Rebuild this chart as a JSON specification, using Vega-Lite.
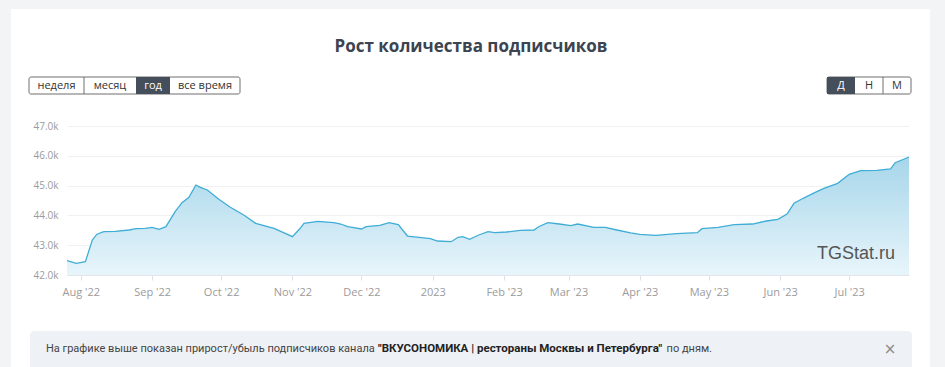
{
  "$schema": "https://vega.github.io/schema/vega-lite/v6.json",
  "width": 842,
  "height": 149,
  "autosize": {"type": "none"},
  "padding": {"left": 67, "top": 126, "right": 36, "bottom": 92},
  "background": "white",
  "config": {"view": {"stroke": null}, "font": "Open Sans"},
  "datasets": {
    "subs": [
      {"date": "2022-07-26", "subscribers": 42480},
      {"date": "2022-07-30", "subscribers": 42393},
      {"date": "2022-08-03", "subscribers": 42446},
      {"date": "2022-08-06", "subscribers": 43174},
      {"date": "2022-08-08", "subscribers": 43370},
      {"date": "2022-08-11", "subscribers": 43453},
      {"date": "2022-08-16", "subscribers": 43466},
      {"date": "2022-08-22", "subscribers": 43510},
      {"date": "2022-08-25", "subscribers": 43554},
      {"date": "2022-08-29", "subscribers": 43567},
      {"date": "2022-09-01", "subscribers": 43600},
      {"date": "2022-09-04", "subscribers": 43533},
      {"date": "2022-09-07", "subscribers": 43621},
      {"date": "2022-09-11", "subscribers": 44124},
      {"date": "2022-09-14", "subscribers": 44426},
      {"date": "2022-09-17", "subscribers": 44607},
      {"date": "2022-09-20", "subscribers": 45020},
      {"date": "2022-09-22", "subscribers": 44940},
      {"date": "2022-09-25", "subscribers": 44852},
      {"date": "2022-09-30", "subscribers": 44540},
      {"date": "2022-10-05", "subscribers": 44272},
      {"date": "2022-10-11", "subscribers": 44003},
      {"date": "2022-10-16", "subscribers": 43735},
      {"date": "2022-10-24", "subscribers": 43567},
      {"date": "2022-11-01", "subscribers": 43285},
      {"date": "2022-11-04", "subscribers": 43533},
      {"date": "2022-11-06", "subscribers": 43735},
      {"date": "2022-11-12", "subscribers": 43802},
      {"date": "2022-11-19", "subscribers": 43755},
      {"date": "2022-11-22", "subscribers": 43711},
      {"date": "2022-11-25", "subscribers": 43621},
      {"date": "2022-11-27", "subscribers": 43600},
      {"date": "2022-12-01", "subscribers": 43544},
      {"date": "2022-12-03", "subscribers": 43621},
      {"date": "2022-12-09", "subscribers": 43667},
      {"date": "2022-12-13", "subscribers": 43755},
      {"date": "2022-12-17", "subscribers": 43688},
      {"date": "2022-12-21", "subscribers": 43308},
      {"date": "2022-12-26", "subscribers": 43265},
      {"date": "2022-12-31", "subscribers": 43218},
      {"date": "2023-01-03", "subscribers": 43141},
      {"date": "2023-01-09", "subscribers": 43117},
      {"date": "2023-01-12", "subscribers": 43265},
      {"date": "2023-01-14", "subscribers": 43285},
      {"date": "2023-01-17", "subscribers": 43198},
      {"date": "2023-01-21", "subscribers": 43342},
      {"date": "2023-01-25", "subscribers": 43453},
      {"date": "2023-01-28", "subscribers": 43419},
      {"date": "2023-02-02", "subscribers": 43443},
      {"date": "2023-02-08", "subscribers": 43500},
      {"date": "2023-02-14", "subscribers": 43510},
      {"date": "2023-02-16", "subscribers": 43621},
      {"date": "2023-02-20", "subscribers": 43755},
      {"date": "2023-02-25", "subscribers": 43711},
      {"date": "2023-03-02", "subscribers": 43655},
      {"date": "2023-03-05", "subscribers": 43711},
      {"date": "2023-03-12", "subscribers": 43600},
      {"date": "2023-03-17", "subscribers": 43600},
      {"date": "2023-03-22", "subscribers": 43510},
      {"date": "2023-03-28", "subscribers": 43410},
      {"date": "2023-04-01", "subscribers": 43365},
      {"date": "2023-04-08", "subscribers": 43332},
      {"date": "2023-04-17", "subscribers": 43386},
      {"date": "2023-04-26", "subscribers": 43419},
      {"date": "2023-04-28", "subscribers": 43554},
      {"date": "2023-05-05", "subscribers": 43600},
      {"date": "2023-05-12", "subscribers": 43688},
      {"date": "2023-05-20", "subscribers": 43711},
      {"date": "2023-05-26", "subscribers": 43812},
      {"date": "2023-05-31", "subscribers": 43869},
      {"date": "2023-06-04", "subscribers": 44047},
      {"date": "2023-06-07", "subscribers": 44406},
      {"date": "2023-06-11", "subscribers": 44574},
      {"date": "2023-06-16", "subscribers": 44762},
      {"date": "2023-06-20", "subscribers": 44909},
      {"date": "2023-06-26", "subscribers": 45077},
      {"date": "2023-07-01", "subscribers": 45379},
      {"date": "2023-07-06", "subscribers": 45500},
      {"date": "2023-07-13", "subscribers": 45513},
      {"date": "2023-07-19", "subscribers": 45557},
      {"date": "2023-07-21", "subscribers": 45768},
      {"date": "2023-07-27", "subscribers": 45960}
    ]
  },
  "layer": [
    {"data": {"values": [{}]}, "mark": {"type": "rect", "fill": "#f3f4f6"}, "encoding": {"x": {"value": -67}, "x2": {"value": -56}, "y": {"value": -126}, "y2": {"value": 241}}},
    {"data": {"values": [{}]}, "mark": {"type": "rect", "fill": "#f3f4f6"}, "encoding": {"x": {"value": -67}, "x2": {"value": 878}, "y": {"value": -126}, "y2": {"value": -117}}},
    {"data": {"values": [{}]}, "mark": {"type": "rect", "fill": "#f3f4f6"}, "encoding": {"x": {"value": 863}, "x2": {"value": 878}, "y": {"value": -126}, "y2": {"value": 241}}},
    {
      "data": {"name": "subs"},
      "encoding": {
        "x": {
          "field": "date", "type": "temporal",
          "scale": {"type": "utc", "domain": [1658793600000, 1690416000000]},
          "axis": {
            "title": null, "grid": false,
            "values": [1659312000000, 1661990400000, 1664582400000, 1667260800000, 1669852800000, 1672531200000, 1675209600000, 1677628800000, 1680307200000, 1682899200000, 1685577600000, 1688169600000],
            "labelExpr": "utcmonth(datum.value)==0 ? utcFormat(datum.value,'%Y') : utcFormat(datum.value,\"%b '%y\")",
            "domainColor": "#e1e6ec", "tickColor": "#dde2e8", "tickSize": 5,
            "labelColor": "#9b9b9b", "labelFontSize": 11, "labelPadding": 6, "labelFont": "Open Sans"
          }
        },
        "y": {
          "field": "subscribers", "type": "quantitative",
          "scale": {"domain": [42000, 47000], "nice": false, "zero": false},
          "axis": {
            "title": null, "domain": false, "ticks": false,
            "values": [42000, 43000, 44000, 45000, 46000, 47000],
            "labelExpr": "format(datum.value/1000,'.1f')+'k'",
            "gridColor": "#f1f1f1", "labelColor": "#9b9b9b", "labelFontSize": 10, "labelPadding": 9, "labelFont": "Open Sans"
          }
        }
      },
      "layer": [
        {
          "mark": {
            "type": "area",
            "color": {"gradient": "linear", "x1": 0, "y1": 0, "x2": 0, "y2": 1,
              "stops": [{"offset": 0, "color": "#a6d6ea"}, {"offset": 1, "color": "#e8f5fb"}]}
          },
          "encoding": {"y2": {"datum": 42000}}
        },
        {"mark": {"type": "line", "stroke": "#3fadd6", "strokeWidth": 1.3}}
      ]
    },
    {"data": {"values": [{}]}, "mark": {"type": "text", "text": "TGStat.ru", "font": "Liberation Sans", "fontSize": 18, "color": "#555555", "align": "right", "baseline": "alphabetic"}, "encoding": {"x": {"value": 828}, "y": {"value": 133}}},
    {"data": {"values": [{}]}, "mark": {"type": "text", "text": "Рост количества подписчиков", "font": "Open Sans", "fontSize": 17, "fontWeight": "bold", "color": "#3b4450", "align": "center", "baseline": "middle"}, "encoding": {"x": {"value": 404}, "y": {"value": -79}}},
    {"data": {"values": [{}]}, "mark": {"type": "rect", "fill": "white", "stroke": "#6e6e6e", "strokeWidth": 1, "cornerRadius": 2}, "encoding": {"x": {"value": -38}, "x2": {"value": 173}, "y": {"value": -49}, "y2": {"value": -32}}},
    {"data": {"values": [{}]}, "mark": {"type": "rect", "fill": "#454f5b"}, "encoding": {"x": {"value": 69}, "x2": {"value": 103}, "y": {"value": -49}, "y2": {"value": -32}}},
    {"data": {"values": [{}]}, "mark": {"type": "rule", "stroke": "#6e6e6e", "strokeWidth": 1}, "encoding": {"x": {"value": 17}, "y": {"value": -49}, "y2": {"value": -32}}},
    {"data": {"values": [{}]}, "mark": {"type": "text", "text": "неделя", "fontSize": 11, "color": "#333333", "align": "center", "baseline": "middle"}, "encoding": {"x": {"value": -10.5}, "y": {"value": -40.5}}},
    {"data": {"values": [{}]}, "mark": {"type": "text", "text": "месяц", "fontSize": 11, "color": "#333333", "align": "center", "baseline": "middle"}, "encoding": {"x": {"value": 43}, "y": {"value": -40.5}}},
    {"data": {"values": [{}]}, "mark": {"type": "text", "text": "год", "fontSize": 11, "color": "white", "align": "center", "baseline": "middle"}, "encoding": {"x": {"value": 86}, "y": {"value": -40.5}}},
    {"data": {"values": [{}]}, "mark": {"type": "text", "text": "все время", "fontSize": 11, "color": "#333333", "align": "center", "baseline": "middle"}, "encoding": {"x": {"value": 138}, "y": {"value": -40.5}}},
    {"data": {"values": [{}]}, "mark": {"type": "rect", "fill": "white", "stroke": "#6e6e6e", "strokeWidth": 1, "cornerRadius": 2}, "encoding": {"x": {"value": 760}, "x2": {"value": 844}, "y": {"value": -49}, "y2": {"value": -32}}},
    {"data": {"values": [{}]}, "mark": {"type": "rect", "fill": "#454f5b"}, "encoding": {"x": {"value": 760}, "x2": {"value": 788}, "y": {"value": -49}, "y2": {"value": -32}}},
    {"data": {"values": [{}]}, "mark": {"type": "rule", "stroke": "#6e6e6e", "strokeWidth": 1}, "encoding": {"x": {"value": 816}, "y": {"value": -49}, "y2": {"value": -32}}},
    {"data": {"values": [{}]}, "mark": {"type": "text", "text": "Д", "fontSize": 11, "color": "white", "align": "center", "baseline": "middle"}, "encoding": {"x": {"value": 774}, "y": {"value": -40.5}}},
    {"data": {"values": [{}]}, "mark": {"type": "text", "text": "Н", "fontSize": 11, "color": "#333333", "align": "center", "baseline": "middle"}, "encoding": {"x": {"value": 802}, "y": {"value": -40.5}}},
    {"data": {"values": [{}]}, "mark": {"type": "text", "text": "М", "fontSize": 11, "color": "#333333", "align": "center", "baseline": "middle"}, "encoding": {"x": {"value": 830}, "y": {"value": -40.5}}},
    {"data": {"values": [{}]}, "mark": {"type": "rect", "fill": "#eef1f5", "cornerRadius": 4}, "encoding": {"x": {"value": -37}, "x2": {"value": 845}, "y": {"value": 205}, "y2": {"value": 260}}},
    {"data": {"values": [{}]}, "mark": {"type": "text", "text": "На графике выше показан прирост/убыль подписчиков канала", "font": "Roboto", "fontSize": 11, "color": "#444444", "align": "left", "baseline": "middle"}, "encoding": {"x": {"value": -21}, "y": {"value": 223}}},
    {"data": {"values": [{}]}, "mark": {"type": "text", "text": "\"ВКУСОНОМИКА | рестораны Москвы и Петербурга\"", "font": "Roboto", "fontSize": 11.5, "fontWeight": "bold", "color": "#222222", "align": "left", "baseline": "middle"}, "encoding": {"x": {"value": 311}, "y": {"value": 223}}},
    {"data": {"values": [{}]}, "mark": {"type": "text", "text": "по дням.", "font": "Roboto", "fontSize": 11, "color": "#444444", "align": "right", "baseline": "middle"}, "encoding": {"x": {"value": 645}, "y": {"value": 223}}},
    {"data": {"values": [{}]}, "mark": {"type": "text", "text": "×", "font": "DejaVu Sans", "fontSize": 15, "color": "#8a8a8a", "align": "center", "baseline": "middle"}, "encoding": {"x": {"value": 823}, "y": {"value": 223}}}
  ]
}
